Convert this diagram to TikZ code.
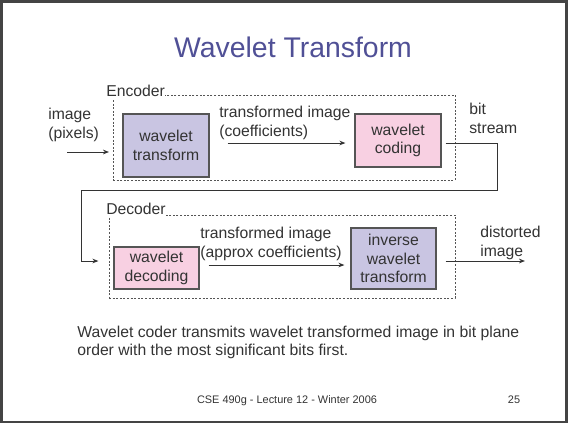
\documentclass[tikz,border=0pt]{standalone}
\usepackage{fontspec}
\setmainfont{Liberation Sans}
\usetikzlibrary{fit,arrows.meta}
\definecolor{lav}{RGB}{201,197,226}
\definecolor{pinkf}{RGB}{248,208,226}
\definecolor{txt}{RGB}{51,51,51}
\definecolor{titlec}{RGB}{80,80,150}
\definecolor{edge}{RGB}{85,85,85}
\definecolor{framec}{RGB}{68,68,68}
\begin{document}
\begin{tikzpicture}[x=0.75pt,y=-0.75pt,
  font=\fontsize{11.8}{14}\selectfont, text=txt,
  box/.style={draw=edge, line width=0.9pt, inner sep=0pt, align=center},
  dbox/.style={draw=edge, dash pattern=on 1.5pt off 1.2pt, line width=0.75pt, inner sep=0pt},
  arr/.style={draw=txt, line width=0.75pt, -{Stealth[length=4.5pt,width=3.5pt]}},
  lbl/.style={anchor=base west, align=left, inner sep=0pt},
  grp/.style={anchor=base west, fill=white, inner xsep=0pt, inner ysep=1.5pt}]
\useasboundingbox (0,0) rectangle (568,426);
\node[draw=framec, line width=2pt, fit={(1.5,1.5)(566.5,422)}, inner sep=0pt] (frame) {};
\node[text=titlec, font=\fontsize{21.3}{25}\selectfont, anchor=base] (title) at (293,57) {Wavelet Transform};
% encoder
\node[dbox, minimum width=256.5pt, minimum height=63.75pt] (enc) at (284,137.5) {};
\node[grp] (encl) at (106,96) {Encoder};
\node[box, fill=lav, minimum width=64.5pt, minimum height=47.25pt] (wt) at (166,145.5) {wavelet\\transform};
\node[box, fill=pinkf, minimum width=64.5pt, minimum height=39.75pt] (wc) at (398,140.5) {wavelet\\coding};
% decoder
\node[dbox, minimum width=259.5pt, minimum height=62.25pt] (decb) at (282,256.5) {};
\node[grp] (decl) at (106,214) {Decoder};
\node[box, fill=pinkf, minimum width=63.75pt, minimum height=31.5pt] (dec) at (156.5,268) {wavelet\\decoding};
\node[box, fill=lav, minimum width=63.75pt, minimum height=45.75pt] (inv) at (393.5,258.5) {inverse\\wavelet\\transform};
% labels (anchor = baseline of last line)
\node[lbl] (limg) at (48,138) {image\\(pixels)};
\node[lbl] (ltr1) at (219,136) {transformed image\\(coefficients)};
\node[lbl] (lbit) at (469,133) {bit\\stream};
\node[lbl] (ltr2) at (200,257) {transformed image\\(approx coefficients)};
\node[lbl] (ldist) at (480,256) {distorted\\image};
% connectors
\coordinate (inS) at (67,152);
\coordinate (inE) at (109,152);
\draw[arr] (inS) -- (inE);
\coordinate (r1) at (0,143);
\draw[arr, shorten <=13.5pt, shorten >=6.75pt] (wt.east |- r1) -- (wc.west |- r1);
\coordinate (fb1) at (497,190);
\coordinate (fb2) at (81,261);
\draw[arr, shorten <=3pt, shorten >=11.25pt] (wc.east |- r1) -| (fb1) -| (fb2) -- (dec.west |- fb2);
\coordinate (r2) at (0,265);
\draw[arr, shorten <=6.75pt, shorten >=4.5pt] (dec.east |- r2) -- (inv.west |- r2);
\coordinate (outE) at (525,261);
\draw[arr, shorten <=6.75pt] (inv.east |- outE) -- (outE);
% text
\node[lbl, font=\fontsize{11.8}{13.5}\selectfont] (body) at (77,355) {Wavelet coder transmits wavelet transformed image in bit plane\\order with the most significant bits first.};
\node[anchor=base, font=\fontsize{8.2}{10}\selectfont, inner sep=0pt] (foot) at (287,403) {CSE 490g - Lecture 12 - Winter 2006};
\node[anchor=base, font=\fontsize{8.2}{10}\selectfont, inner sep=0pt] (pg) at (514,403) {25};
\end{tikzpicture}
\end{document}
